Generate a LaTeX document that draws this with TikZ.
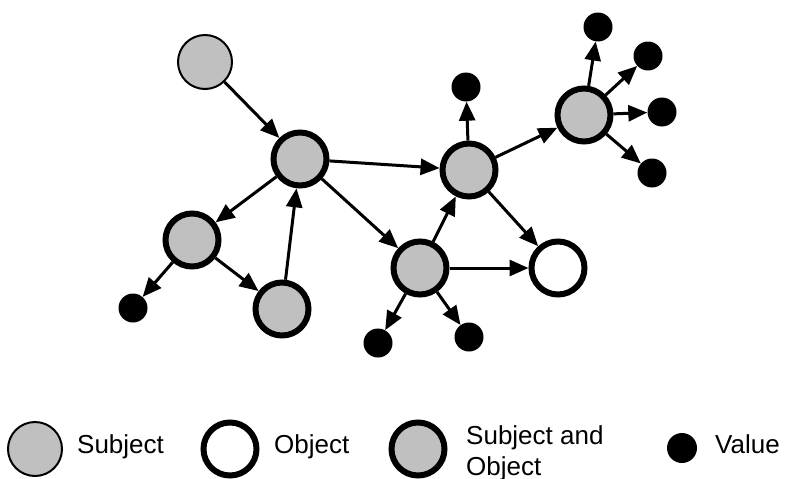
\documentclass[tikz,border=0pt]{standalone}
\usepackage{fontspec}
\setmainfont{Liberation Sans}
\usetikzlibrary{arrows.meta}
\definecolor{nodegray}{RGB}{192,192,192}
\begin{document}
\begin{tikzpicture}[x=1pt,y=-1pt,
  subj/.style={circle,draw=black,line width=2pt,fill=nodegray,minimum size=54pt,inner sep=0pt},
  both/.style={circle,draw=black,line width=6pt,fill=nodegray,minimum size=53pt,inner sep=0pt},
  obj/.style={circle,draw=black,line width=6pt,fill=white,minimum size=53pt,inner sep=0pt},
  val/.style={circle,fill=black,minimum size=29pt,inner sep=0pt},
  edge/.style={line width=3pt,-{Triangle[length=19pt,width=16pt]}},
  lbl/.style={font=\fontsize{26}{31}\selectfont,anchor=base west,inner sep=0pt}]
\useasboundingbox (0,0) rectangle (785,479);
% graph nodes
\node[subj] (A) at (205,62) {};
\node[both] (B) at (300,159) {};
\node[both] (C) at (469,170) {};
\node[both] (D) at (584,115) {};
\node[both] (E) at (192,240) {};
\node[both] (F) at (282,309) {};
\node[both] (G) at (420,268) {};
\node[obj]  (H) at (558,268) {};
\node[val] (v1) at (598,27) {};
\node[val] (v2) at (648,56) {};
\node[val] (v3) at (662,112) {};
\node[val] (v4) at (652,173) {};
\node[val] (v5) at (466,87) {};
\node[val] (v6) at (133,308) {};
\node[val] (v7) at (378,343) {};
\node[val] (v8) at (469,337) {};
% edges
\draw[edge] (A) -- (B);
\draw[edge] (B) -- (C);
\draw[edge] (B) -- (E);
\draw[edge] (F) -- (B);
\draw[edge] (E) -- (F);
\draw[edge] (E) -- (v6);
\draw[edge] (B) -- (G);
\draw[edge] (G) -- (C);
\draw[edge] (C) -- (H);
\draw[edge] (G) -- (H);
\draw[edge] (G) -- (v7);
\draw[edge] (G) -- (v8);
\draw[edge] (C) -- (v5);
\draw[edge] (C) -- (D);
\draw[edge] (D) -- (v1);
\draw[edge] (D) -- (v2);
\draw[edge] (D) -- (v3);
\draw[edge] (D) -- (v4);
% legend
\node[subj] (L1) at (35,449) {};
\node[lbl] (T1) at (77,453) {Subject};
\node[obj] (L2) at (230,449) {};
\node[lbl] (T2) at (274,453) {Object};
\node[both] (L3) at (418,449) {};
\node[lbl] (T3a) at (466,444) {Subject and};
\node[lbl] (T3b) at (466,475) {Object};
\node[val,minimum size=30pt] (L4) at (682,448) {};
\node[lbl] (T4) at (715,453) {Value};
\end{tikzpicture}
\end{document}
